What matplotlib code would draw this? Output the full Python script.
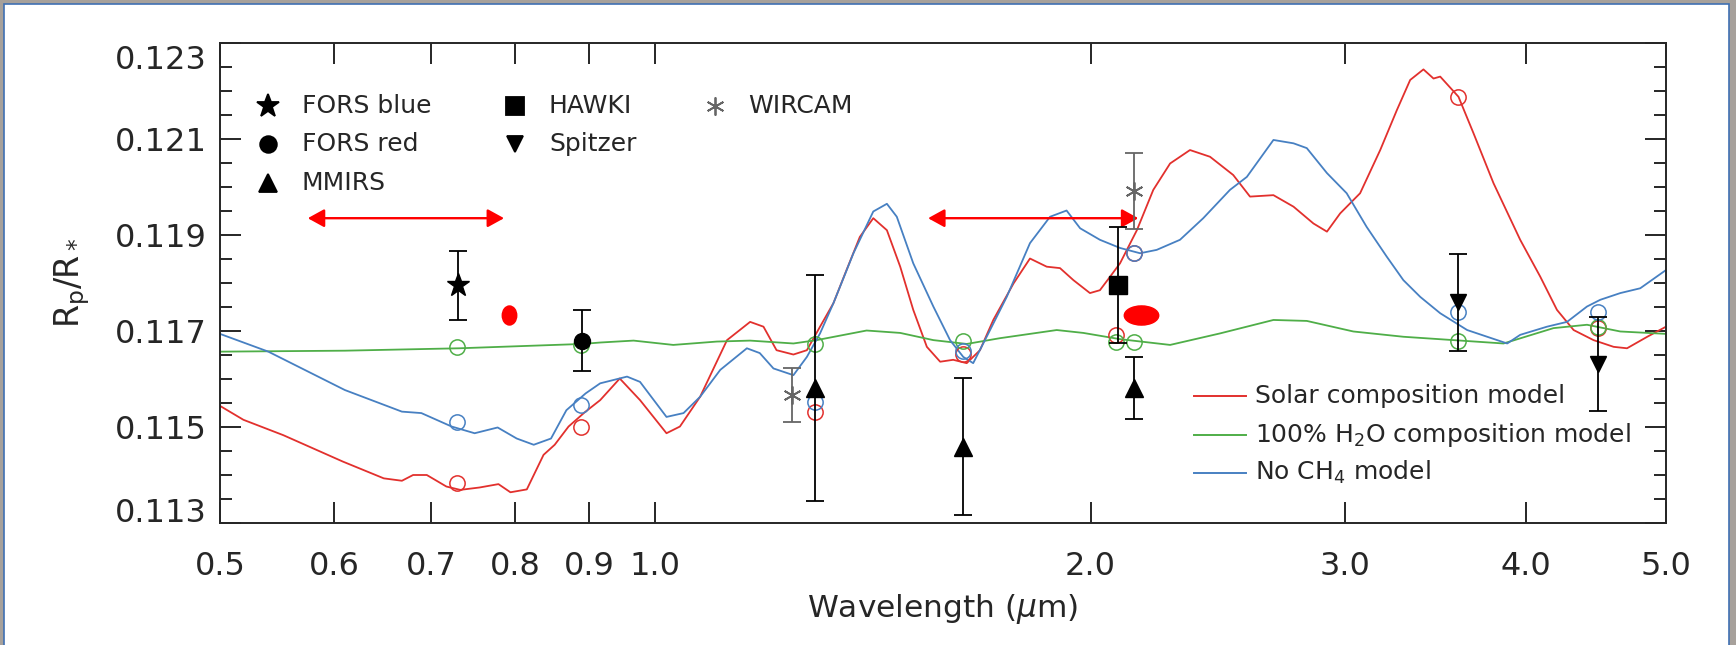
import numpy as np
import matplotlib
matplotlib.use("Agg")
import matplotlib.pyplot as plt
import matplotlib.patches as mpatches
from matplotlib.path import Path
from matplotlib.transforms import Affine2D, blended_transform_factory
from matplotlib.ticker import FixedLocator, FixedFormatter, MultipleLocator, NullLocator

plt.rcParams['font.family'] = ['DejaVu Sans']
plt.rcParams['mathtext.fontset'] = 'dejavusans'

# 模型光谱 (波长 micron, Rp/R*)
solar_wl = [0.500, 0.519, 0.553, 0.608, 0.649, 0.668, 0.680, 0.695, 0.717, 0.733,
            0.756, 0.779, 0.794, 0.815, 0.837, 0.852, 0.871, 0.894, 0.916, 0.945,
            0.976, 1.018, 1.040, 1.074, 1.121, 1.163, 1.188, 1.213, 1.246, 1.273,
            1.300, 1.328, 1.356, 1.385, 1.415, 1.446, 1.477, 1.508, 1.541, 1.574,
            1.607, 1.642, 1.677, 1.713, 1.769, 1.816, 1.865, 1.905, 1.946, 1.998,
            2.030, 2.063, 2.096, 2.153, 2.210, 2.270, 2.343, 2.419, 2.510, 2.578,
            2.676, 2.763, 2.852, 2.914, 2.976, 3.072, 3.172, 3.257, 3.327, 3.398,
            3.453, 3.490, 3.593, 3.680, 3.799, 3.964, 4.093, 4.203, 4.316, 4.455,
            4.600, 4.699, 4.853, 5.000]
solar_rp = [0.11544, 0.11515, 0.11483, 0.11428, 0.11393, 0.11388, 0.11400, 0.11400, 0.11376, 0.11369,
            0.11374, 0.11381, 0.11364, 0.11370, 0.11442, 0.11463, 0.11501, 0.11531, 0.11556, 0.11601,
            0.11556, 0.11487, 0.11501, 0.11563, 0.11681, 0.11719, 0.11709, 0.11660, 0.11651, 0.11660,
            0.11709, 0.11758, 0.11827, 0.11896, 0.11935, 0.11910, 0.11834, 0.11744, 0.11667, 0.11636,
            0.11640, 0.11633, 0.11660, 0.11723, 0.11799, 0.11851, 0.11834, 0.11831, 0.11806, 0.11779,
            0.11785, 0.11813, 0.11841, 0.11910, 0.11994, 0.12049, 0.12077, 0.12063, 0.12025, 0.11980,
            0.11983, 0.11959, 0.11924, 0.11907, 0.11945, 0.11987, 0.12077, 0.12160, 0.12223, 0.12245,
            0.12226, 0.12230, 0.12188, 0.12112, 0.12008, 0.11890, 0.11813, 0.11744, 0.11702, 0.11681,
            0.11667, 0.11664, 0.11688, 0.11709]

h2o_wl = [0.500, 0.610, 0.732, 0.890, 0.916, 0.966, 1.029, 1.103, 1.163, 1.246,
          1.293, 1.400, 1.477, 1.557, 1.642, 1.731, 1.895, 1.977, 2.096, 2.270,
          2.458, 2.676, 2.822, 3.039, 3.291, 3.565, 3.860, 4.180, 4.409, 4.649, 5.000]
h2o_rp = [0.11657, 0.11659, 0.11664, 0.11673, 0.11676, 0.11680, 0.11671, 0.11678, 0.11680, 0.11674,
          0.11681, 0.11701, 0.11696, 0.11681, 0.11673, 0.11685, 0.11702, 0.11696, 0.11683, 0.11671,
          0.11695, 0.11723, 0.11721, 0.11699, 0.11688, 0.11681, 0.11674, 0.11706, 0.11713, 0.11699, 0.11694]

noch4_wl = [0.500, 0.540, 0.610, 0.668, 0.689, 0.723, 0.750, 0.778, 0.802, 0.824,
            0.847, 0.868, 0.895, 0.916, 0.956, 0.976, 1.018, 1.046, 1.074, 1.109,
            1.157, 1.181, 1.207, 1.246, 1.273, 1.300, 1.328, 1.371, 1.415, 1.446,
            1.469, 1.508, 1.557, 1.599, 1.633, 1.659, 1.695, 1.750, 1.816, 1.875,
            1.925, 1.967, 2.030, 2.096, 2.164, 2.222, 2.306, 2.393, 2.497, 2.565,
            2.676, 2.763, 2.822, 2.914, 3.007, 3.104, 3.205, 3.291, 3.381, 3.490,
            3.643, 3.761, 3.883, 3.964, 4.137, 4.271, 4.409, 4.503, 4.649, 4.799, 5.000]
noch4_rp = [0.11694, 0.11657, 0.11577, 0.11532, 0.11529, 0.11501, 0.11487, 0.11499, 0.11476, 0.11463,
            0.11476, 0.11535, 0.11570, 0.11591, 0.11605, 0.11594, 0.11521, 0.11529, 0.11563, 0.11619,
            0.11664, 0.11654, 0.11622, 0.11608, 0.11646, 0.11695, 0.11758, 0.11862, 0.11949, 0.11965,
            0.11938, 0.11841, 0.11751, 0.11681, 0.11646, 0.11633, 0.11688, 0.11771, 0.11883, 0.11938,
            0.11951, 0.11914, 0.11890, 0.11873, 0.11862, 0.11869, 0.11890, 0.11935, 0.11994, 0.12021,
            0.12098, 0.12091, 0.12081, 0.12029, 0.11987, 0.11917, 0.11855, 0.11806, 0.11771, 0.11737,
            0.11702, 0.11688, 0.11674, 0.11692, 0.11709, 0.11719, 0.11751, 0.11765, 0.11779, 0.11789, 0.11827]

# 波段积分的模型值 (空心圆)
band_wl = [0.729, 0.888, 1.289, 1.633, 2.083, 2.143, 3.593, 4.490]
band_solar = [0.11384, 0.11499, 0.11532, 0.11652, 0.11692, 0.11862, 0.12188, 0.11706]
band_h2o = [0.11666, 0.11671, 0.11673, 0.11679, 0.11678, 0.11677, 0.11680, 0.11708]
band_noch4 = [0.11511, 0.11546, 0.11553, 0.11658, np.nan, 0.11862, 0.11740, 0.11740]

# 观测点
fors_blue_wl, fors_blue_rp, fors_blue_err = [0.730], [0.11795], [0.00072]
fors_red_wl, fors_red_rp, fors_red_err = [0.890], [0.11680], [0.00063]
mmirs_wl = [1.289, 1.633, 2.142]
mmirs_rp = [0.11581, 0.11459, 0.11581]
mmirs_err = [0.00236, 0.00143, 0.00064]
hawki_wl, hawki_rp, hawki_err = [2.088], [0.11795], [0.00121]
spitzer_wl = [3.593, 4.487]
spitzer_rp = [0.11760, 0.11632]
spitzer_err = [0.00101, 0.00098]
wircam_wl = [1.244, 2.142]
wircam_rp = [0.11567, 0.11992]
wircam_err = [0.00056, 0.00079]

# 红色标注 (椭圆和双向箭头)
mark_wl = [0.792, 2.167]
mark_rp = [0.11733, 0.11733]
arrow_start = [0.575, 1.544]
arrow_end = [0.786, 2.158]
arrow_rp = 0.11935

xtick_vals = [0.5, 0.6, 0.7, 0.8, 0.9, 1.0, 2.0, 3.0, 4.0, 5.0]
xtick_labels = ['0.5', '0.6', '0.7', '0.8', '0.9', '1.0', '2.0', '3.0', '4.0', '5.0']
ytick_vals = [0.113, 0.115, 0.117, 0.119, 0.121, 0.123]

RED = '#e2302d'
GREEN = '#4fae48'
BLUE = '#4780c2'
GRAY = '#666666'
INK = '#262626'

fig = plt.figure(figsize=(17.36, 6.45), dpi=100)
fig.patch.set_facecolor('#a7a19b')
panel = mpatches.Rectangle((4 / 1736, -0.01), 1725 / 1736, 641 / 645 + 0.01, transform=fig.transFigure,
                           facecolor='white', edgecolor='#3f70b3', lw=1.2, zorder=-10)
fig.patches.append(panel)

ax = fig.add_axes([220 / 1736, 1 - 523 / 645, 1446 / 1736, 480 / 645])
ax.set_xscale('log')
ax.set_xlim(0.5, 5.0)
ax.set_ylim(0.113, 0.123)

# 模型曲线
ax.plot(solar_wl, solar_rp, color=RED, lw=1.3, zorder=2)
ax.plot(h2o_wl, h2o_rp, color=GREEN, lw=1.3, zorder=2)
ax.plot(noch4_wl, noch4_rp, color=BLUE, lw=1.3, zorder=2)

circ = dict(marker='o', ls='none', mfc='none', ms=11, mew=1.1, zorder=3)
ax.plot(band_wl, band_solar, mec=RED, **circ)
ax.plot(band_wl, band_h2o, mec=GREEN, **circ)
ax.plot(band_wl, band_noch4, mec=BLUE, **circ)

# 红色标注
ucirc = Path.unit_circle()
tall = ucirc.transformed(Affine2D().scale(0.76, 1.0))
wide = ucirc.transformed(Affine2D().scale(1.8, 1.0))
ax.plot(mark_wl[:1], mark_rp[:1], marker=tall, ms=13.7, color='#ff0000', ls='none', zorder=4)
ax.plot(mark_wl[1:], mark_rp[1:], marker=wide, ms=24.8, color='#ff0000', ls='none', zorder=4)
for a, b in zip(arrow_start, arrow_end):
    ax.annotate('', xy=(b, arrow_rp), xytext=(a, arrow_rp),
                arrowprops=dict(arrowstyle='<|-|>,head_length=1.0,head_width=0.55',
                                color='#ff0000', lw=1.7, shrinkA=0, shrinkB=0, mutation_scale=10),
                zorder=4)

# 观测数据
eb = dict(ls='none', capsize=6.4, elinewidth=1.3, capthick=1.3, zorder=5)
ax.errorbar(fors_blue_wl, fors_blue_rp, yerr=fors_blue_err, marker='*', ms=17, color='black', **eb)
ax.errorbar(fors_red_wl, fors_red_rp, yerr=fors_red_err, marker='o', ms=11.5, color='black', **eb)
ax.errorbar(mmirs_wl, mmirs_rp, yerr=mmirs_err, marker='^', ms=12.5, color='black', **eb)
ax.errorbar(hawki_wl, hawki_rp, yerr=hawki_err, marker='s', ms=13, color='black', **eb)
ax.errorbar(spitzer_wl, spitzer_rp, yerr=spitzer_err, marker='v', ms=11.5, color='black', **eb)
ax.errorbar(wircam_wl, wircam_rp, yerr=wircam_err, marker=(6, 2, 0), ms=13, mew=1.3, color=GRAY, **eb)

# 坐标轴
ax.xaxis.set_major_locator(FixedLocator(xtick_vals))
ax.xaxis.set_major_formatter(FixedFormatter(xtick_labels))
ax.xaxis.set_minor_locator(NullLocator())
ax.yaxis.set_major_locator(FixedLocator(ytick_vals))
ax.yaxis.set_major_formatter(FixedFormatter(['', '0.115', '0.117', '0.119', '0.121', '']))
ax.yaxis.set_minor_locator(MultipleLocator(0.0005))
ax.tick_params(which='both', direction='in', top=True, right=True, width=1.4, color=INK,
               labelsize=23, labelcolor=INK)
ax.tick_params(which='major', length=15)
ax.tick_params(which='minor', length=8.5)
ax.tick_params(axis='x', pad=20)
ax.tick_params(axis='y', pad=9.6)
for s in ax.spines.values():
    s.set_linewidth(1.4)
    s.set_color(INK)

# 上下两端的标签往里挪一点
side = blended_transform_factory(ax.transAxes, ax.transData)
ax.annotate('0.123', xy=(0, 0.123), xycoords=side, xytext=(-9.6, -10), textcoords='offset points',
            ha='right', va='center_baseline', fontsize=23, color=INK)
ax.annotate('0.113', xy=(0, 0.113), xycoords=side, xytext=(-9.6, 9.5), textcoords='offset points',
            ha='right', va='center_baseline', fontsize=23, color=INK)

ax.set_xlabel(r'Wavelength ($\mu$m)', fontsize=22.5, color=INK)
ax.xaxis.set_label_coords(0.5, -0.143)
ax.set_ylabel(r'R$_{\rm p}$/R$_*$', fontsize=24, color=INK)
ax.yaxis.set_label_coords(-0.0885, 0.5)

# 左上角图例
rows = [0.8688, 0.7896, 0.7083]
sym_legend = [
    (0.0332, rows[0], '*', 17, 'black', 'FORS blue'),
    (0.0332, rows[1], 'o', 12, 'black', 'FORS red'),
    (0.0332, rows[2], '^', 13, 'black', 'MMIRS'),
    (0.2040, rows[0], 's', 13, 'black', 'HAWKI'),
    (0.2040, rows[1], 'v', 11.5, 'black', 'Spitzer'),
    (0.3421, rows[0], (6, 2, 0), 13, GRAY, 'WIRCAM'),
]
for x, y, m, ms, c, lab in sym_legend:
    ax.plot([x], [y], marker=m, ms=ms, color=c, mew=1.3, transform=ax.transAxes, clip_on=False)
    ax.text(x + 0.0235, y, lab, transform=ax.transAxes, fontsize=18, color=INK, va='center', ha='left')

# 右下角图例
line_legend = [
    (0.2646, RED, 'Solar composition model'),
    (0.1833, GREEN, r'100% H$_2$O composition model'),
    (0.1048, BLUE, r'No CH$_4$ model'),
]
for y, c, lab in line_legend:
    ax.plot([0.6736, 0.7095], [y, y], color=c, lw=1.4, transform=ax.transAxes)
    ax.text(0.7155, y, lab, transform=ax.transAxes, fontsize=18, color=INK, va='center', ha='left')

fig.savefig('out.png', dpi=100, facecolor=fig.get_facecolor())
